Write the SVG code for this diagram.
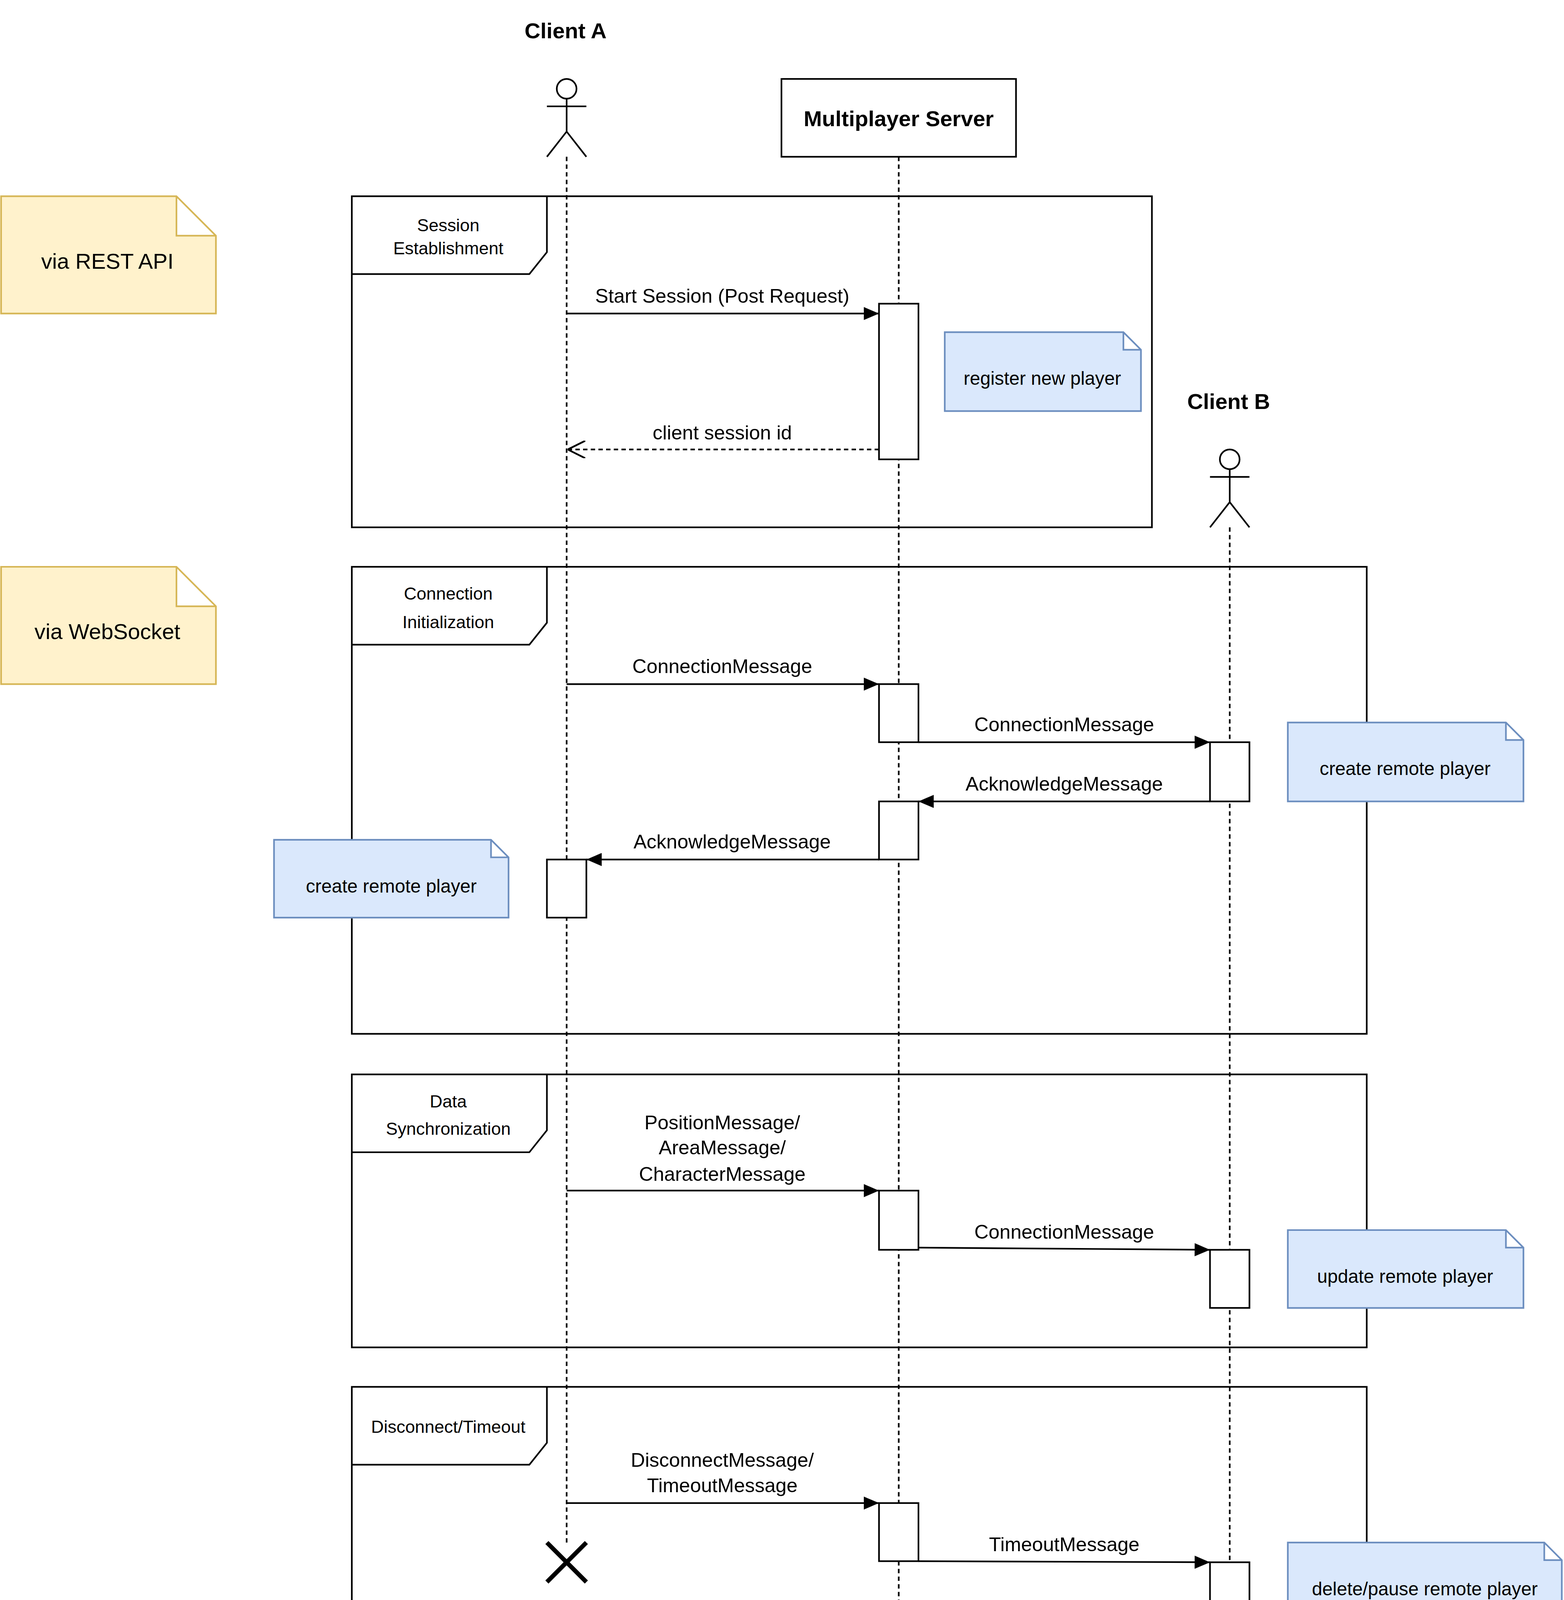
<svg xmlns="http://www.w3.org/2000/svg" width="4005" height="4405" viewBox="0 0 4005 4405">
<defs>
<style>
text{font-family:"Liberation Sans",Arial,sans-serif;fill:#000;text-anchor:middle}
.t{font-size:20px;font-weight:bold}
.m{font-size:18px}
.f{font-size:16px}
.n{font-size:17px}
.y{font-size:20px}
.life{stroke:#000;stroke-width:1.5;stroke-dasharray:4 3;fill:none}
.box{fill:#fff;stroke:#000;stroke-width:1.5}
.frame{fill:none;stroke:#000;stroke-width:1.5}
.msg{stroke:#000;stroke-width:1.5;fill:none;marker-end:url(#a)}
.ret{stroke:#000;stroke-width:1.5;fill:none;stroke-dasharray:4 3;marker-end:url(#o)}
.yel{fill:#fff2cc;stroke:#d6b656;stroke-width:1.5}
.blu{fill:#dae8fc;stroke:#6c8ebf;stroke-width:1.5}
</style>
<marker id="a" viewBox="0 0 14 12" refX="14" refY="6" markerWidth="14" markerHeight="12" markerUnits="userSpaceOnUse" orient="auto"><path d="M0,0 L14,6 L0,12 z" fill="#000"/></marker>
<marker id="o" viewBox="0 0 14 14" refX="14" refY="7" markerWidth="16" markerHeight="16" markerUnits="userSpaceOnUse" orient="auto"><path d="M0,0 L14,7 L0,14" fill="none" stroke="#000" stroke-width="1.4"/></marker>
</defs>
<rect width="4005" height="4405" fill="#fff"/>
<g transform="scale(2.8066)">
<g id="lifelines">
<line class="life" x1="517" y1="143" x2="517" y2="1410"/>
<line class="life" x1="820" y1="143" x2="820" y2="1568"/>
<line class="life" x1="1122" y1="481" x2="1122" y2="1568"/>
</g>
<g id="frame-session"><rect class="frame" x="321" y="179" width="730" height="302"/><path class="frame" d="M321,250 H483 L499,230 V179"/><text class="f" x="409" y="211">Session</text><text class="f" x="409" y="232">Establishment</text></g>
<g id="frame-connection"><rect class="frame" x="321" y="517" width="926" height="426"/><path class="frame" d="M321,588 H483 L499,568 V517"/><text class="f" x="409" y="547">Connection</text><text class="f" x="409" y="573">Initialization</text></g>
<g id="frame-data"><rect class="frame" x="321" y="980" width="926" height="249"/><path class="frame" d="M321,1051 H483 L499,1031 V980"/><text class="f" x="409" y="1010">Data</text><text class="f" x="409" y="1035">Synchronization</text></g>
<g id="frame-disconnect"><rect class="frame" x="321" y="1265" width="926" height="248"/><path class="frame" d="M321,1336 H483 L499,1316 V1265"/><text class="f" x="409" y="1307">Disconnect/Timeout</text></g>
<g id="clientA"><text class="t" x="516" y="35">Client A</text><circle cx="517" cy="81" r="9" fill="#fff" stroke="#000" stroke-width="1.5"/><path d="M517,90 V120 M499,97 H535 M499,143 L517,120 L535,143" fill="none" stroke="#000" stroke-width="1.5"/></g>
<g id="server"><rect class="box" x="713" y="72" width="214" height="71"/><text class="t" x="820" y="115">Multiplayer Server</text></g>
<g id="clientB"><text class="t" x="1121" y="373">Client B</text><circle cx="1122" cy="419" r="9" fill="#fff" stroke="#000" stroke-width="1.5"/><path d="M1122,428 V458 M1104,435 H1140 M1104,481 L1122,458 L1140,481" fill="none" stroke="#000" stroke-width="1.5"/></g>
<g id="activations">
<rect class="box" x="802" y="277" width="36" height="142"/>
<rect class="box" x="802" y="624" width="36" height="53"/>
<rect class="box" x="1104" y="677" width="36" height="54"/>
<rect class="box" x="802" y="731" width="36" height="53"/>
<rect class="box" x="499" y="784" width="36" height="53"/>
<rect class="box" x="802" y="1086" width="36" height="54"/>
<rect class="box" x="1104" y="1140" width="36" height="53"/>
<rect class="box" x="802" y="1371" width="36" height="53"/>
<rect class="box" x="1104" y="1425" width="36" height="53"/>
</g>
<g id="destroy"><path d="M499,1407 L535,1443 M535,1407 L499,1443" stroke="#000" stroke-width="4"/></g>
<g id="connectors">
<line class="msg" x1="517" y1="286" x2="802" y2="286"/><text class="m" x="659" y="276">Start Session (Post Request)</text>
<line class="ret" x1="802" y1="410" x2="518" y2="410"/><text class="m" x="659" y="401">client session id</text>
<line class="msg" x1="517" y1="624" x2="802" y2="624"/><text class="m" x="659" y="614">ConnectionMessage</text>
<line class="msg" x1="838" y1="677" x2="1104" y2="677"/><text class="m" x="971" y="667">ConnectionMessage</text>
<line class="msg" x1="1104" y1="731" x2="838" y2="731"/><text class="m" x="971" y="721">AcknowledgeMessage</text>
<line class="msg" x1="802" y1="784" x2="535" y2="784"/><text class="m" x="668" y="774">AcknowledgeMessage</text>
<line class="msg" x1="517" y1="1086" x2="802" y2="1086"/><text class="m" x="659" y="1030">PositionMessage/</text><text class="m" x="659" y="1053">AreaMessage/</text><text class="m" x="659" y="1077">CharacterMessage</text>
<line class="msg" x1="838" y1="1138" x2="1104" y2="1140"/><text class="m" x="971" y="1130">ConnectionMessage</text>
<line class="msg" x1="517" y1="1371" x2="802" y2="1371"/><text class="m" x="659" y="1338">DisconnectMessage/</text><text class="m" x="659" y="1361">TimeoutMessage</text>
<line class="msg" x1="838" y1="1424" x2="1104" y2="1425"/><text class="m" x="971" y="1415">TimeoutMessage</text>
</g>
<g id="note-rest"><path class="yel" d="M1,179 H161 L197,215 V286 H1 Z M161,179 V215 H197" /><text class="y" x="98" y="245">via REST API</text></g>
<g id="note-ws"><path class="yel" d="M1,517 H161 L197,553 V624 H1 Z M161,517 V553 H197"/><text class="y" x="98" y="583">via WebSocket</text></g>
<g id="note-register"><path class="blu" d="M862,303 H1025 L1041,319 V375 H862 Z M1025,303 V319 H1041"/><text class="n" x="951" y="351">register new player</text></g>
<g id="note-createB"><path class="blu" d="M1175,659 H1374 L1390,675 V731 H1175 Z M1374,659 V675 H1390"/><text class="n" x="1282" y="707">create remote player</text></g>
<g id="note-createA"><path class="blu" d="M250,766 H448 L464,782 V837 H250 Z M448,766 V782 H464"/><text class="n" x="357" y="814">create remote player</text></g>
<g id="note-update"><path class="blu" d="M1175,1122 H1374 L1390,1138 V1193 H1175 Z M1374,1122 V1138 H1390"/><text class="n" x="1282" y="1170">update remote player</text></g>
<g id="note-delete"><path class="blu" d="M1175,1407 H1409 L1425,1423 V1478 H1175 Z M1409,1407 V1423 H1425"/><text class="n" x="1300" y="1455">delete/pause remote player</text></g>
</g>
</svg>
